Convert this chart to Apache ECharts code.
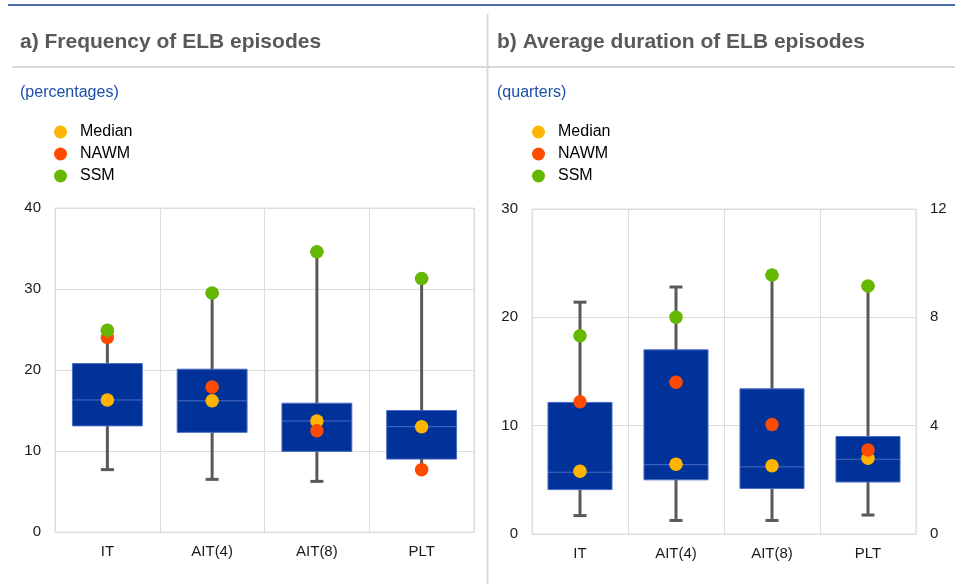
<!DOCTYPE html>
<html>
<head>
<meta charset="utf-8">
<script src="https://cdn.jsdelivr.net/npm/echarts@6/dist/echarts.min.js"></script>
<style>
  html, body { margin: 0; padding: 0; background: #ffffff; }
  #chart { width: 955px; height: 584px; }
</style>
</head>
<body>
<div id="chart"></div>
<script>
// ---------- data ----------
const categories = ['IT', 'AIT(4)', 'AIT(8)', 'PLT'];

// Panel a) Frequency of ELB episodes (percentages): [min, Q1, median, Q3, max]
const freqBox = [
  [7.7, 13.1, 16.3, 20.8, 24.8],
  [6.5, 12.3, 16.2, 20.1, 29.5],
  [6.25, 9.95, 13.7, 15.9, 34.6],
  [7.7, 9.0, 13.0, 15.0, 31.3]
];
const freqMedian = [16.3, 16.2, 13.7, 13.0];
const freqNAWM = [24.0, 17.9, 12.5, 7.7];
const freqSSM = [24.9, 29.5, 34.6, 31.3];

// Panel b) Average duration of ELB episodes (quarters): [min, Q1, median, Q3, max]
const durBox = [
  [1.7, 4.1, 5.7, 12.15, 21.4],
  [1.25, 5.0, 6.4, 17.0, 22.8],
  [1.25, 4.2, 6.2, 13.4, 23.9],
  [1.75, 4.8, 6.9, 9.0, 22.9]
];
const durMedian = [5.8, 6.45, 6.3, 7.0];
const durNAWM = [12.2, 14.0, 10.1, 7.75];
const durSSM = [18.3, 20.0, 23.9, 22.9];

const leftTicks = { min: 0, max: 40, interval: 10 };
const rightTicks = { min: 0, max: 30, interval: 10 };
const rightTicks2 = { min: 0, max: 12, interval: 4 };

// ---------- styles ----------
const FONT = 'Liberation Sans, Arial, sans-serif';
const C_BOX = '#003299';
const C_BOX_EDGE = '#4a6cc4';
const C_WHISK = '#595959';
const C_MED = '#ffb400';
const C_NAWM = '#ff4b00';
const C_SSM = '#65b800';
const C_GRID = '#dcdcdc';

function boxRender(params, api) {
  const x = api.value(0);
  const pMin = api.coord([x, api.value(1)]);
  const pQ1 = api.coord([x, api.value(2)]);
  const pMed = api.coord([x, api.value(3)]);
  const pQ3 = api.coord([x, api.value(4)]);
  const pMax = api.coord([x, api.value(5)]);
  const bw = api.size([1, 0])[0] * 0.667;
  const cx = pMin[0];
  const cap = 6.5;
  const wStyle = { stroke: C_WHISK, lineWidth: 3 };
  return {
    type: 'group',
    children: [
      { type: 'line', shape: { x1: cx, y1: pMin[1], x2: cx, y2: pMax[1] }, style: wStyle },
      { type: 'line', shape: { x1: cx - cap, y1: pMin[1], x2: cx + cap, y2: pMin[1] }, style: wStyle },
      { type: 'line', shape: { x1: cx - cap, y1: pMax[1], x2: cx + cap, y2: pMax[1] }, style: wStyle },
      { type: 'rect', shape: { x: cx - bw / 2, y: pQ3[1], width: bw, height: pQ1[1] - pQ3[1] },
        style: { fill: C_BOX, stroke: C_BOX_EDGE, lineWidth: 1 } },
      { type: 'line', shape: { x1: cx - bw / 2, y1: pMed[1], x2: cx + bw / 2, y2: pMed[1] },
        style: { stroke: C_BOX_EDGE, lineWidth: 1 } }
    ]
  };
}

function boxData(arr) {
  return arr.map((v, i) => [i].concat(v));
}

function dotSeries(name, data, color, xi, yi) {
  return {
    name: name, type: 'scatter', xAxisIndex: xi, yAxisIndex: yi,
    data: data, symbol: 'circle', symbolSize: 13.5, z: 5,
    itemStyle: { color: color, opacity: 1 },
    emphasis: { disabled: true }
  };
}

function xAxisCfg(gi) {
  return {
    type: 'category', gridIndex: gi, data: categories,
    axisLine: { show: true, lineStyle: { color: C_GRID, width: 1 } },
    axisTick: { show: false },
    axisLabel: { color: '#1a1a1a', fontSize: 15, fontFamily: FONT, margin: 12, interval: 0 },
    splitLine: { show: true, interval: 0, lineStyle: { color: C_GRID, width: 1 } }
  };
}

function yAxisCfg(gi, t, pos, showSplit) {
  return {
    type: 'value', gridIndex: gi, position: pos, min: t.min, max: t.max, interval: t.interval,
    axisLine: { show: false }, axisTick: { show: false },
    axisLabel: { color: '#1a1a1a', fontSize: 15, fontFamily: FONT, margin: 14 },
    splitLine: { show: showSplit, lineStyle: { color: C_GRID, width: 1 } }
  };
}

const chart = echarts.init(document.getElementById('chart'), null, { renderer: 'canvas' });

const legendBase = {
  orient: 'vertical', icon: 'circle', itemWidth: 13, itemHeight: 13, itemGap: 6,
  selectedMode: false, data: ['Median', 'NAWM', 'SSM'],
  textStyle: { color: '#000', fontSize: 16, fontFamily: FONT, padding: [0, 0, 0, 8] }
};

chart.setOption({
  animation: false,
  backgroundColor: '#ffffff',
  textStyle: { fontFamily: FONT },
  title: [
    { text: 'a) Frequency of ELB episodes', left: 20, top: 32, padding: 0,
      textStyle: { fontSize: 21, fontWeight: 'bold', color: '#595959', fontFamily: FONT } },
    { text: '(percentages)', left: 20, top: 85, padding: 0,
      textStyle: { fontSize: 16, fontWeight: 'normal', color: '#1b4fa8', fontFamily: FONT } },
    { text: 'b) Average duration of ELB episodes', left: 497, top: 32, padding: 0,
      textStyle: { fontSize: 21, fontWeight: 'bold', color: '#595959', fontFamily: FONT } },
    { text: '(quarters)', left: 497, top: 85, padding: 0,
      textStyle: { fontSize: 16, fontWeight: 'normal', color: '#1b4fa8', fontFamily: FONT } }
  ],
  legend: [
    Object.assign({}, legendBase, { left: 54, top: 124, padding: 0 }),
    Object.assign({}, legendBase, { left: 532, top: 124, padding: 0 })
  ],
  graphic: [
    { type: 'line', silent: true, shape: { x1: 8, y1: 5, x2: 955, y2: 5 },
      style: { stroke: '#0d3a8c', lineWidth: 1.5 } },
    { type: 'line', silent: true, shape: { x1: 12, y1: 67, x2: 955, y2: 67 },
      style: { stroke: '#d9d9d9', lineWidth: 2 } },
    { type: 'line', silent: true, shape: { x1: 487.5, y1: 14, x2: 487.5, y2: 584 },
      style: { stroke: '#d9d9d9', lineWidth: 2 } }
  ],
  grid: [
    { left: 55, top: 208, width: 419, height: 324, show: true, borderColor: C_GRID, borderWidth: 1, backgroundColor: 'transparent' },
    { left: 532, top: 209, width: 384, height: 325, show: true, borderColor: C_GRID, borderWidth: 1, backgroundColor: 'transparent' }
  ],
  xAxis: [xAxisCfg(0), xAxisCfg(1)],
  yAxis: [
    yAxisCfg(0, leftTicks, 'left', true),
    yAxisCfg(1, rightTicks, 'left', true),
    yAxisCfg(1, rightTicks2, 'right', false)
  ],
  series: [
    { name: 'Box a', type: 'custom', xAxisIndex: 0, yAxisIndex: 0, renderItem: boxRender,
      data: boxData(freqBox), encode: { x: 0, y: [1, 2, 3, 4, 5] }, z: 2, silent: true },
    dotSeries('Median', freqMedian, C_MED, 0, 0),
    dotSeries('NAWM', freqNAWM, C_NAWM, 0, 0),
    dotSeries('SSM', freqSSM, C_SSM, 0, 0),
    { name: 'Box b', type: 'custom', xAxisIndex: 1, yAxisIndex: 1, renderItem: boxRender,
      data: boxData(durBox), encode: { x: 0, y: [1, 2, 3, 4, 5] }, z: 2, silent: true },
    dotSeries('Median', durMedian, C_MED, 1, 1),
    dotSeries('NAWM', durNAWM, C_NAWM, 1, 1),
    dotSeries('SSM', durSSM, C_SSM, 1, 1)
  ]
});
</script>
</body>
</html>
